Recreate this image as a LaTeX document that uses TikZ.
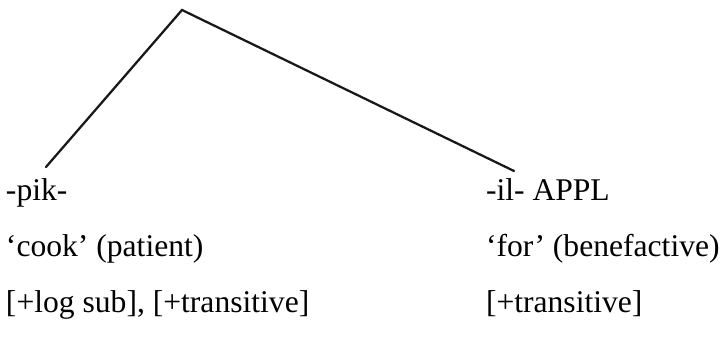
\documentclass[tikz,border=0pt]{standalone}
\usepackage{fontspec}
\setmainfont{Liberation Serif}
\begin{document}
\begin{tikzpicture}[x=0.75pt, y=-0.75pt,
    font=\fontsize{23.7}{28}\selectfont,
    branch/.style={draw=black!90, line width=1.7pt, line cap=round},
    morph/.style={anchor=base west, inner sep=0pt, outer sep=0pt},
  ]
    \useasboundingbox (0,0) rectangle (721,359);

    % Baum
    \coordinate (root) at (182,10);
    \coordinate (pikend) at (46,167);
    \coordinate (ilend) at (514,171);
    \draw[branch] (pikend) -- (root) -- (ilend);

    % Verbstamm
    \node[morph] (pik)  at (6,201) {-pik-};
    \node[morph] (cook) at (6,257) {`cook' (patient)};
    \node[morph] (logsub) at (6,313) {[+log sub], [+transitive]};

    % Applikativ
    \node[morph] (appl) at (486,201) {-il- APPL};
    \node[morph] (for)  at (486,257) {`for' (benefactive)};
    \node[morph] (trans) at (486,313) {[+transitive]};
\end{tikzpicture}
\end{document}
